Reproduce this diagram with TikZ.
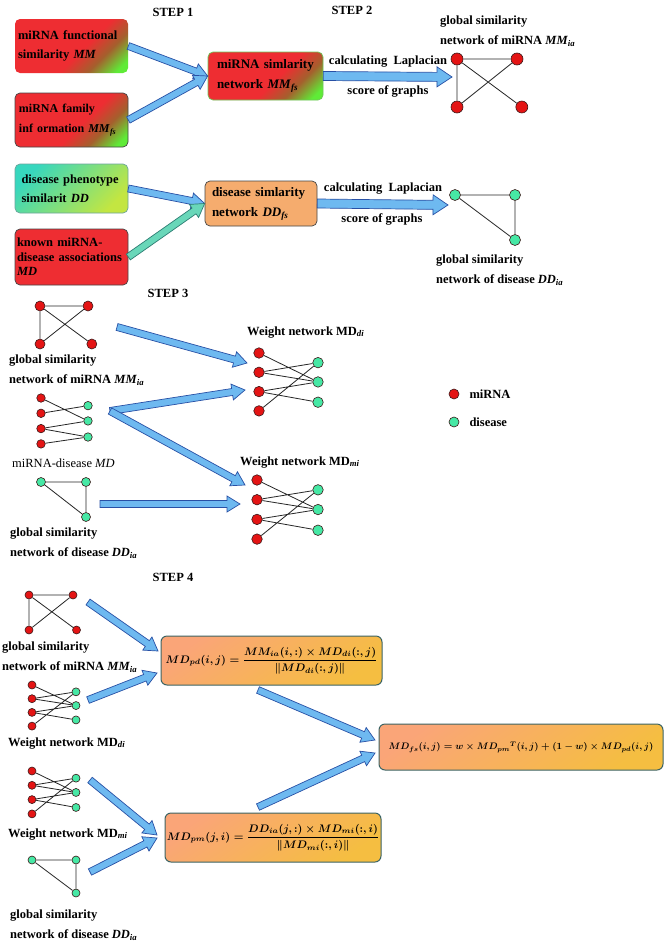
\RequirePackage{fix-cm}
\documentclass[tikz,border=0pt]{standalone}
\usepackage{fontspec}
\setmainfont{Liberation Serif}
\usepackage{amsmath}
\usetikzlibrary{calc, positioning}

\definecolor{mirnared}{RGB}{228,20,20}
\definecolor{diseasegreen}{RGB}{70,232,165}
\definecolor{dotline}{RGB}{60,25,25}
\definecolor{arrowfill}{RGB}{110,185,240}
\definecolor{arrowline}{RGB}{40,80,165}
\definecolor{tealfill}{RGB}{105,215,185}
\definecolor{tealline}{RGB}{45,125,115}
\definecolor{boxred}{RGB}{238,45,50}
\definecolor{boxbrown}{RGB}{165,95,45}
\definecolor{boxgreen}{RGB}{95,235,55}
\definecolor{boxline}{RGB}{70,70,70}
\definecolor{boxteal}{RGB}{55,215,190}
\definecolor{boxlime}{RGB}{195,230,65}
\definecolor{boxorange}{RGB}{245,172,110}
\definecolor{formorange}{RGB}{250,165,120}
\definecolor{formyellow}{RGB}{245,190,65}
\definecolor{formline}{RGB}{60,100,100}
\definecolor{greenline}{RGB}{110,200,90}

\pgfdeclarehorizontalshading{redgreen}{100bp}{color(0bp)=(boxred); color(56bp)=(boxred); color(68bp)=(boxbrown); color(80bp)=(boxgreen); color(100bp)=(boxgreen)}

\newcommand\sub[2]{\textit{#1}\textsubscript{\textit{#2}}}

\tikzset{
  mirnanet/.pic={
    \node[mirna] (-tl) at (0,0) {};
    \node[mirna] (-tr) at (1,0) {};
    \node[mirna] (-bl) at (0,1) {};
    \node[mirna] (-br) at (1.08,1) {};
    \draw[link] (-tl) -- (-tr) (-tl) -- (-bl) (-tl) -- (-br) (-bl) -- (-tr);
  },
  diseasenet/.pic={
    \node[disease] (-a) at (0,0) {};
    \node[disease] (-b) at (1,0) {};
    \node[disease] (-c) at (1,1) {};
    \draw[link] (-a) -- (-b) -- (-c) -- (-a);
  },
  mdnet/.pic={
    \node[mirna] (-r1) at (0,0) {};
    \node[mirna] (-r2) at (0,1) {};
    \node[mirna] (-r3) at (0,2) {};
    \node[mirna] (-r4) at (0,3) {};
    \node[disease] (-d1) at (1,0.5) {};
    \node[disease] (-d2) at (1,1.5) {};
    \node[disease] (-d3) at (1,2.55) {};
    \draw[link] (-r1) -- (-d2) (-r2) -- (-d1) (-r3) -- (-d2) (-r3) -- (-d3) (-r4) -- (-d3);
  },
  weightnet/.pic={
    \node[mirna] (-r1) at (0,0) {};
    \node[mirna] (-r2) at (0,1) {};
    \node[mirna] (-r3) at (0,2) {};
    \node[mirna] (-r4) at (0,3) {};
    \node[disease] (-d1) at (1,0.5) {};
    \node[disease] (-d2) at (1,1.5) {};
    \node[disease] (-d3) at (1,2.55) {};
    \draw[link] (-r1) -- (-d2) (-r2) -- (-d1) (-r2) -- (-d2) (-r3) -- (-d2) (-r3) -- (-d3) (-r4) -- (-d1);
  }
}

\begin{document}
\begin{tikzpicture}[x=1pt, y=-1pt,
    lblfont/.style={font=\fontsize{12.5}{19.5}\selectfont\bfseries},
    lbl/.style={lblfont, align=left, inner sep=0pt},
    steplbl/.style={font=\fontsize{12.5}{15}\selectfont\bfseries, inner sep=0pt},
    infobox/.style={rounded corners=5pt, align=left, inner ysep=1pt, line width=0.7pt, lblfont},
    rgbox/.style={shading=redgreen, shading angle=-45},
    formbox/.style={rounded corners=6pt, draw=formline, line width=1pt, top color=formorange,
                    bottom color=formyellow, shading angle=35, inner sep=0pt,
                    font=\fontsize{10.9}{14}\selectfont\boldmath},
    mirna/.style={circle, draw=dotline, fill=mirnared, line width=0.6pt, inner sep=0pt, minimum size=9pt},
    disease/.style={circle, draw=dotline, fill=diseasegreen, line width=0.6pt, inner sep=0pt, minimum size=9pt},
    dotsize/.style={mirna/.append style={minimum size=#1}, disease/.append style={minimum size=#1}},
    link/.style={draw=black!85, line width=0.8pt},
    arrowshape/.style n args={3}{to path={
      ($(\tikztostart)!#1!90:(\tikztotarget)$)
      -- ($(\tikztotarget)!#3!(\tikztostart)!#1!90:(\tikztotarget)$)
      -- ($(\tikztotarget)!#3!(\tikztostart)!#2!90:(\tikztotarget)$)
      -- (\tikztotarget)
      -- ($(\tikztotarget)!#3!(\tikztostart)!#2!-90:(\tikztotarget)$)
      -- ($(\tikztotarget)!#3!(\tikztostart)!#1!-90:(\tikztotarget)$)
      -- ($(\tikztostart)!#1!-90:(\tikztotarget)$) -- cycle}},
    fatarrow/.style={draw=arrowline, fill=arrowfill, line width=0.7pt, line join=miter,
                     arrowshape={3.5pt}{8pt}{13pt}},
    bigarrow/.style={fatarrow, arrowshape={4.5pt}{10pt}{15pt}}]
  \useasboundingbox[fill=white] (0,0) rectangle (665,945);

  % STEP 1 and STEP 2
  \node[steplbl] (step1) at (173,12) {STEP 1};
  \node[steplbl] (step2) at (352,10) {STEP 2};

  \node[infobox, rgbox, text width=107pt, inner xsep=3pt, minimum height=54pt] (fa) at (71.5,46)
    {miRNA functional\\similarity \textit{MM}};
  \node[infobox, rgbox, draw=boxline, text width=105pt, inner xsep=4pt, minimum height=54pt,
        font=\fontsize{12}{19.5}\selectfont\bfseries] (fb) at (71.5,120)
    {miRNA family\\inf ormation \sub{MM}{fs}};
  \node[infobox, rgbox, draw=greenline, text width=97pt, inner xsep=9pt, minimum height=48pt,
        font=\fontsize{13}{20}\selectfont\bfseries] (fc) at (265.5,76)
    {miRNA simlarity\\network \sub{MM}{fs}};
  \node[infobox, top color=boxteal, bottom color=boxlime, shading angle=45, draw=tealline!70,
        text width=100pt, inner xsep=6.5pt, minimum height=49pt] (fd) at (71.5,188.5)
    {disease phenotype\\similarit \textit{DD}};
  \node[infobox, fill=boxred, draw=boxline, text width=109pt, inner xsep=2pt, minimum height=56pt,
        font=\fontsize{12.5}{14.5}\selectfont\bfseries] (fe) at (71.5,257)
    {known miRNA-\\disease associations\\\textit{MD}};
  \node[infobox, fill=boxorange, draw=boxline, text width=98pt, inner xsep=7pt, minimum height=45pt,
        font=\fontsize{13}{20}\selectfont\bfseries] (ff) at (261,203.5)
    {disease simlarity\\network \sub{DD}{fs}};

  \draw[fatarrow] (fa.east) to (fc.west);
  \draw[fatarrow] (fb.east) to (fc.west);
  \draw[fatarrow] (fd.east) to (ff.west);
  \draw[fatarrow, draw=tealline, fill=tealfill] (fe.east) to (ff.west);

  \coordinate (lap1) at (452,77);
  \coordinate (lap2) at (448,205);
  \draw[bigarrow] (fc.east) to (lap1);
  \draw[bigarrow] (ff.east) to (lap2);
  \node[lbl] (lapa) at (388,62) {calculating~~Laplacian};
  \node[lbl] (lapb) at (388,91) {score of graphs};
  \node[lbl] (lapc) at (383,189) {calculating~~Laplacian};
  \node[lbl] (lapd) at (382,219) {score of graphs};

  \pic[xscale=60, yscale=48, dotsize=12pt] (g2) at (457,59) {mirnanet};
  \node[lbl, anchor=north west] (mmia2) at (440,16) {global similarity\\network of miRNA \sub{MM}{ia}};
  \pic[xscale=60, yscale=45, dotsize=11pt] (d2) at (455,195) {diseasenet};
  \node[lbl, anchor=north west] (ddia2) at (436,255) {global similarity\\network of disease \sub{DD}{ia}};

  % STEP 3
  \node[steplbl] (step3) at (168,293) {STEP 3};
  \pic[xscale=48, yscale=38, dotsize=10pt] (g3) at (40,306) {mirnanet};
  \node[lbl, anchor=north west] (mmia3) at (9,355) {global similarity\\network of miRNA \sub{MM}{ia}};
  \pic[xscale=47, yscale=15.3, dotsize=8.5pt] (md3) at (41,398) {mdnet};
  \node[font=\fontsize{12.5}{15}\selectfont, inner sep=0pt, anchor=base west] (mdlbl) at (12,467)
    {miRNA-disease \textit{MD}};
  \pic[xscale=45, yscale=35, dotsize=9pt] (d3) at (41,482) {diseasenet};
  \node[lbl, anchor=north west] (ddia3) at (10,528) {global similarity\\network of disease \sub{DD}{ia}};

  \node[lbl, anchor=base west] (wdilbl3) at (247,335) {Weight network MD\textsubscript{\textit{di}}};
  \pic[xscale=59, yscale=19.3, dotsize=10.5pt] (wdi3) at (259,353) {weightnet};
  \node[lbl, anchor=base west] (wmilbl3) at (240,465) {Weight network MD\textsubscript{\textit{mi}}};
  \pic[xscale=61, yscale=19.7, dotsize=10.5pt] (wmi3) at (257,480) {weightnet};

  \coordinate (s3a) at (117,327);
  \coordinate (e3a) at (247,363);
  \coordinate (s3b) at (110,411);
  \coordinate (e3b) at (245,390);
  \coordinate (e3c) at (245,485);
  \coordinate (s3c) at (100,504);
  \coordinate (e3d) at (240,504);
  \draw[fatarrow] (s3a) to (e3a);
  \draw[fatarrow] (s3b) to (e3b);
  \draw[fatarrow] (s3b) to (e3c);
  \draw[fatarrow] (s3c) to (e3d);

  \node[mirna, minimum size=10pt] (legm) at (454,394) {};
  \node[disease, minimum size=10pt] (legd) at (454,422) {};
  \node[lbl, right=10pt of legm] (legmtxt) {miRNA};
  \node[lbl, right=10pt of legd] (legdtxt) {disease};

  % STEP 4
  \node[steplbl] (step4) at (173,577) {STEP 4};
  \pic[xscale=44, yscale=35, dotsize=8pt] (g4) at (29,595) {mirnanet};
  \node[lbl, anchor=north west] (mmia4) at (2,642) {global similarity\\network of miRNA \sub{MM}{ia}};
  \pic[xscale=44, yscale=13.7, dotsize=8pt] (wdi4) at (32,685) {weightnet};
  \node[lbl, anchor=base west] (wdilbl4) at (8,746) {Weight network MD\textsubscript{\textit{di}}};
  \pic[xscale=44, yscale=14.3, dotsize=8pt] (wmi4) at (32,771) {weightnet};
  \node[lbl, anchor=base west] (wmilbl4) at (8,837) {Weight network MD\textsubscript{\textit{mi}}};
  \pic[xscale=44, yscale=33, dotsize=8pt] (d4) at (32,860) {diseasenet};
  \node[lbl, anchor=north west] (ddia4) at (10,910) {global similarity\\network of disease \sub{DD}{ia}};

  \node[formbox, minimum width=221pt, minimum height=49pt] (fg) at (271.5,660.5)
    {$\displaystyle MD_{pd}(i,j)=\frac{MM_{ia}(i,:)\times MD_{di}(:,j)}{\lVert MD_{di}(:,j)\rVert}$};
  \node[formbox, minimum width=216pt, minimum height=49pt] (fh) at (273,837.5)
    {$\displaystyle MD_{pm}(j,i)=\frac{DD_{ia}(j,:)\times MD_{mi}(:,i)}{\lVert MD_{mi}(:,i)\rVert}$};
  \node[formbox, minimum width=284pt, minimum height=46pt, font=\fontsize{9.4}{14}\selectfont\boldmath] (fi) at (521,747)
    {$MD_{fs}(i,j)=w\times MD_{pm}{}^{T}(i,j)+(1-w)\times MD_{pd}(i,j)$};

  \coordinate (s4a) at (88,602);
  \coordinate (e4a) at (158,651);
  \coordinate (s4b) at (88,700);
  \coordinate (e4b) at (157,673);
  \coordinate (s4c) at (90,780);
  \coordinate (e4c) at (157,835);
  \coordinate (s4d) at (90,872);
  \coordinate (e4d) at (157,838);
  \coordinate (s4e) at (258,690);
  \coordinate (e4e) at (375,740);
  \coordinate (s4f) at (258,807);
  \coordinate (e4f) at (375,753);
  \draw[fatarrow] (s4a) to (e4a);
  \draw[fatarrow] (s4b) to (e4b);
  \draw[fatarrow] (s4c) to (e4c);
  \draw[fatarrow] (s4d) to (e4d);
  \draw[fatarrow] (s4e) to (e4e);
  \draw[fatarrow] (s4f) to (e4f);
\end{tikzpicture}
\end{document}
